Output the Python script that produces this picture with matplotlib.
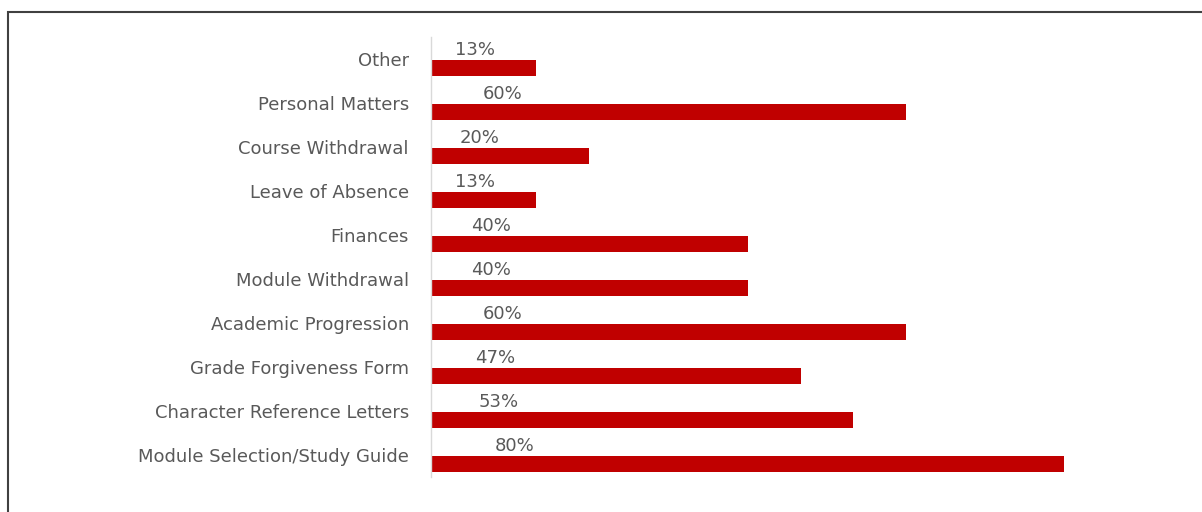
import matplotlib.pyplot as plt
from matplotlib.patches import Rectangle

# Data (top to bottom as shown)
categories = ['Other', 'Personal Matters', 'Course Withdrawal', 'Leave of Absence',
              'Finances', 'Module Withdrawal', 'Academic Progression',
              'Grade Forgiveness Form', 'Character Reference Letters',
              'Module Selection/Study Guide']
values = [13.3, 60, 20, 13.3, 40, 40, 60, 46.7, 53.3, 80]

bar_color = '#C00000'
text_color = '#595959'
font = 'DejaVu Sans'

fig = plt.figure(figsize=(12.02, 5.12), dpi=100)
ax = fig.add_axes([431 / 1202, 1 - 477 / 512, (1064 - 431) / 1202, 440 / 512])

pos = list(range(len(categories)))
bar_pos = [p + 0.2 for p in pos]
ax.barh(bar_pos, values, height=0.36, color=bar_color)

for y, v in zip(bar_pos, values):
    ax.text(4.6 + 0.075 * v, y - 0.2, f'{v:.0f}%', ha='center', va='bottom',
            fontsize=13, color=text_color, family=font)

ax.set_yticks(pos)
ax.set_yticklabels(categories, fontsize=13, color=text_color, family=font)
ax.tick_params(axis='y', length=0, pad=16)
ax.set_ylim(len(categories) - 0.5, -0.5)
ax.set_xlim(0, 80)
ax.set_xticks([])

for s in ['top', 'right', 'bottom']:
    ax.spines[s].set_visible(False)
ax.spines['left'].set_color('#D9D9D9')
ax.spines['left'].set_linewidth(1)

# outer frame of the chart area (cropped at right and bottom)
fig.patches.append(Rectangle((8 / 1202, -0.1), 1.2, 1 - 12 / 512 + 0.1,
                             transform=fig.transFigure, fill=False,
                             edgecolor='#404040', linewidth=1.5))

fig.savefig('out.png', dpi=100)
